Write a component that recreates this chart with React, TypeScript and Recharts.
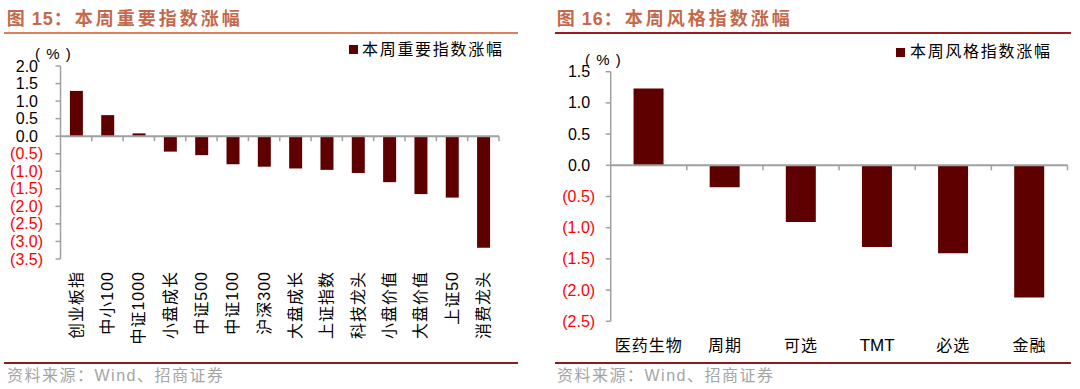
import React from 'react';
import { BarChart, Bar, XAxis, YAxis, ReferenceLine } from 'recharts';

// ---------- data ----------
const indexCategories = ['创业板指', '中小100', '中证1000', '小盘成长', '中证500', '中证100', '沪深300', '大盘成长', '上证指数', '科技龙头', '小盘价值', '大盘价值', '上证50', '消费龙头'];
const indexValues = [1.29, 0.6, 0.08, -0.44, -0.54, -0.8, -0.87, -0.92, -0.96, -1.05, -1.31, -1.65, -1.75, -3.18];
const indexTicks = [2, 1.5, 1, 0.5, 0, -0.5, -1, -1.5, -2, -2.5, -3, -3.5];

const styleCategories = ['医药生物', '周期', '可选', 'TMT', '必选', '金融'];
const styleValues = [1.23, -0.35, -0.91, -1.31, -1.41, -2.12];
const styleTicks = [1.5, 1, 0.5, 0, -0.5, -1, -1.5, -2, -2.5];

const leftTitleNo = '图 15：';
const leftTitle = '本周重要指数涨幅';
const leftLegend = '本周重要指数涨幅';
const rightTitleNo = '图 16：';
const rightTitle = '本周风格指数涨幅';
const rightLegend = '本周风格指数涨幅';
const sourceText = '资料来源：Wind、招商证券';
const unitText = '( % )';

// ---------- styles ----------
const FONT = '"Liberation Sans", "Noto Sans CJK SC", sans-serif';
const BAR = '#5E0000';
const AXIS = '#A0A0A0';
const TITLE = '#C5694B';

const indexData = indexCategories.map((name, i) => ({ name, value: indexValues[i] }));
const styleData = styleCategories.map((name, i) => ({ name, value: styleValues[i] }));

const fmt = (v: number) => (v < 0 ? `(${Math.abs(v).toFixed(1)})` : v.toFixed(1));

const makeYTick = (negOffset: number) => (props: any) => {
  const { x, y, payload } = props;
  const v = payload.value as number;
  const neg = v < 0;
  return (
    <text
      x={x - (neg ? negOffset : negOffset + 5)}
      y={y}
      textAnchor="end"
      dominantBaseline="central"
      fontSize={16}
      fontFamily={FONT}
      fill={neg ? '#FF0000' : '#000000'}
    >
      {fmt(v)}
    </text>
  );
};

const VerticalTick = (props: any) => {
  const { x, y, payload } = props;
  return (
    <text
      transform={`translate(${x},${y + 12}) rotate(-90)`}
      textAnchor="end"
      dominantBaseline="central"
      fontSize={16}
      letterSpacing={1}
      fontFamily={FONT}
      fill="#000"
    >
      {payload.value}
    </text>
  );
};

const FlatTick = (props: any) => {
  const { x, y, payload } = props;
  const latin = /^[A-Za-z]+$/.test(payload.value);
  return (
    <text
      x={x}
      y={y + 24}
      textAnchor="middle"
      dominantBaseline="central"
      fontSize={latin ? 17 : 16}
      letterSpacing={latin ? 0 : 1}
      fontFamily={FONT}
      fill="#000"
    >
      {payload.value}
    </text>
  );
};

const makeZeroLine = (n: number) => (props: any) => {
  const { x1, x2, y1 } = props;
  const step = (x2 - x1) / n;
  const marks = [];
  for (let i = 1; i <= n; i++) {
    const xx = x1 + i * step;
    marks.push(<line key={i} x1={xx} x2={xx} y1={y1} y2={y1 + 5} stroke={AXIS} strokeWidth={1.5} />);
  }
  return (
    <g>
      <line x1={x1} x2={x2} y1={y1} y2={y1} stroke={AXIS} strokeWidth={2} />
      {marks}
    </g>
  );
};

const Abs = ({ style, children }: any) => (
  <div style={{ position: 'absolute', whiteSpace: 'nowrap', fontFamily: FONT, ...style }}>{children}</div>
);

const Panel = ({ left, titleNo, title, headerColor, headerLeft, headerWidth }: any) => (
  <>
    <Abs style={{ left: left + 6.7, top: 9, fontSize: 18, lineHeight: '20px', fontWeight: 700, color: TITLE }}>
      <span style={{ letterSpacing: 1 }}>{titleNo}</span>
      <span style={{ letterSpacing: 3, marginLeft: 2 }}>{title}</span>
    </Abs>
    <div style={{ position: 'absolute', left: headerLeft, top: 31.5, width: headerWidth, height: 2, background: headerColor }} />
    <div style={{ position: 'absolute', left: headerLeft, top: 362.3, width: headerWidth, height: 2, background: '#8E1B1B' }} />
    <Abs style={{ left: left + 7, top: 366, fontSize: 16, lineHeight: '20px', letterSpacing: 1.5, color: '#A5A5A5' }}>{sourceText}</Abs>
  </>
);

export default function App() {
  return (
    <div style={{ position: 'absolute', left: 0, top: 0, width: 1080, height: 389, background: '#fff', overflow: 'hidden' }}>
      <Panel left={0} titleNo={leftTitleNo} title={leftTitle} headerColor="#D9825F" headerLeft={4} headerWidth={514} />
      <Panel left={550} titleNo={rightTitleNo} title={rightTitle} headerColor="#A01C1C" headerLeft={555} headerWidth={516} />

      {/* left chart */}
      <div style={{ position: 'absolute', left: 0, top: 0 }}>
        <BarChart width={540} height={389} data={indexData} margin={{ top: 66, right: 41, bottom: 30, left: 0 }} barCategoryGap="30%">
          <XAxis dataKey="name" axisLine={false} tickLine={false} tickSize={0} tickMargin={0} interval={0} height={100} tick={VerticalTick} />
          <YAxis
            domain={[-3.5, 2]}
            ticks={indexTicks}
            interval={0}
            allowDataOverflow
            width={60.5}
            tickSize={5}
            tickMargin={0}
            axisLine={{ stroke: AXIS, strokeWidth: 1.5 }}
            tickLine={{ stroke: AXIS, strokeWidth: 1.5 }}
            tick={makeYTick(12.5)}
          />
          <Bar dataKey="value" fill={BAR} isAnimationActive={false} />
          <ReferenceLine y={0} shape={makeZeroLine(indexCategories.length)} />
        </BarChart>
      </div>
      <Abs style={{ left: 35, top: 45, fontSize: 15, lineHeight: '18px', letterSpacing: 1 }}>{unitText}</Abs>
      <div style={{ position: 'absolute', left: 349, top: 45, width: 9, height: 9, background: BAR }} />
      <Abs style={{ left: 362, top: 40, fontSize: 16, lineHeight: '20px', letterSpacing: 1.7 }}>{leftLegend}</Abs>

      {/* right chart */}
      <div style={{ position: 'absolute', left: 540, top: 0 }}>
        <BarChart width={540} height={389} data={styleData} margin={{ top: 71.7, right: 12.5, bottom: 27.7, left: 0.7 }} barCategoryGap="30%">
          <XAxis dataKey="name" axisLine={false} tickLine={false} tickSize={0} tickMargin={0} interval={0} height={40} tick={FlatTick} />
          <YAxis
            domain={[-2.5, 1.5]}
            ticks={styleTicks}
            interval={0}
            allowDataOverflow
            width={70}
            tickSize={5}
            tickMargin={0}
            axisLine={{ stroke: AXIS, strokeWidth: 1.5 }}
            tickLine={{ stroke: AXIS, strokeWidth: 1.5 }}
            tick={makeYTick(10.5)}
          />
          <Bar dataKey="value" fill={BAR} isAnimationActive={false} />
          <ReferenceLine y={0} shape={makeZeroLine(styleCategories.length)} />
        </BarChart>
      </div>
      <Abs style={{ left: 585, top: 51, fontSize: 15, lineHeight: '18px', letterSpacing: 1 }}>{unitText}</Abs>
      <div style={{ position: 'absolute', left: 895.5, top: 47.5, width: 9, height: 9, background: BAR }} />
      <Abs style={{ left: 910, top: 42, fontSize: 16, lineHeight: '20px', letterSpacing: 1.7 }}>{rightLegend}</Abs>
    </div>
  );
}
